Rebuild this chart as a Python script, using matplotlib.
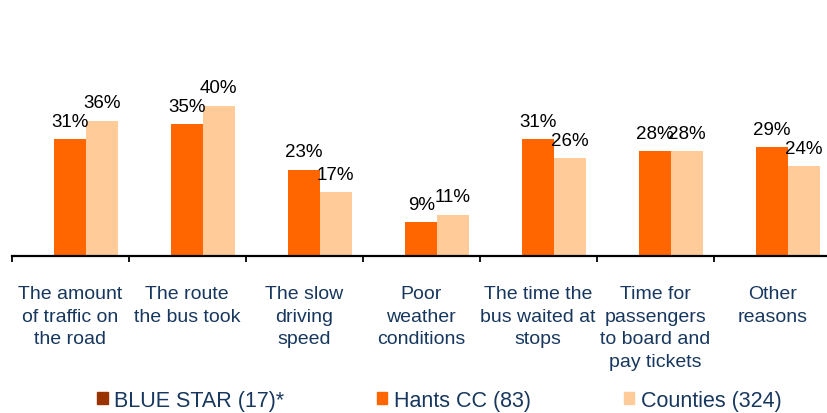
import matplotlib.pyplot as plt
from matplotlib.patches import Patch
import numpy as np

categories = ['The amount\nof traffic on\nthe road', 'The route\nthe bus took', 'The slow\ndriving\nspeed',
              'Poor\nweather\nconditions', 'The time the\nbus waited at\nstops',
              'Time for\npassengers\nto board and\npay tickets', 'Other\nreasons']
series_names = ['BLUE STAR (17)*', 'Hants CC (83)', 'Counties (324)']
blue_star = [np.nan] * 7
hants = [31, 35, 23, 9, 31, 28, 29]
counties = [36, 40, 17, 11, 26, 28, 24]

colors = ['#993300', '#FF6600', '#FFCC99']
text_color = '#17375E'

plt.rcParams['font.family'] = ['Liberation Sans', 'DejaVu Sans']

fig = plt.figure(figsize=(8.27, 4.14), dpi=100)
ax = fig.add_axes([11.7 / 827, 157 / 414, 819 / 827, 188 / 414])

x = np.arange(len(categories))
width = 0.27
for i, (vals, col) in enumerate(zip([blue_star, hants, counties], colors)):
    bars = ax.bar(x + (i - 1) * width, vals, width, color=col, label=series_names[i])
    for b, v in zip(bars, vals):
        if np.isnan(v):
            continue
        ax.annotate('%d%%' % v, (b.get_x() + b.get_width() / 2, v), xytext=(0, 9.5),
                    textcoords='offset points', ha='center', va='baseline', fontsize=13.5, color='black')

ax.set_xlim(-0.5, len(categories) - 0.5)
ax.set_ylim(0, 50)
for s in ['top', 'right', 'left']:
    ax.spines[s].set_visible(False)
ax.spines['bottom'].set_linewidth(1.6)
ax.set_yticks([])
ax.set_xticks(np.arange(len(categories) + 1) - 0.5)
ax.set_xticklabels([])
ax.tick_params(axis='x', which='major', length=4.5, width=1.3, direction='out')
ax.set_xticks(x, minor=True)
ax.set_xticklabels(categories, minor=True, fontsize=14, color=text_color, linespacing=1.42)
ax.tick_params(axis='x', which='minor', length=0, pad=21)

handles = [Patch(color=c) for c in colors]
fig.legend(handles, series_names, loc='center', bbox_to_anchor=(0.531, 0.031), ncol=3, frameon=False,
           fontsize=15.5, labelcolor=text_color, handlelength=0.5, handleheight=0.5,
           handletextpad=0.3, columnspacing=4.3, borderpad=0, borderaxespad=0)

fig.savefig('out.png', dpi=100)
